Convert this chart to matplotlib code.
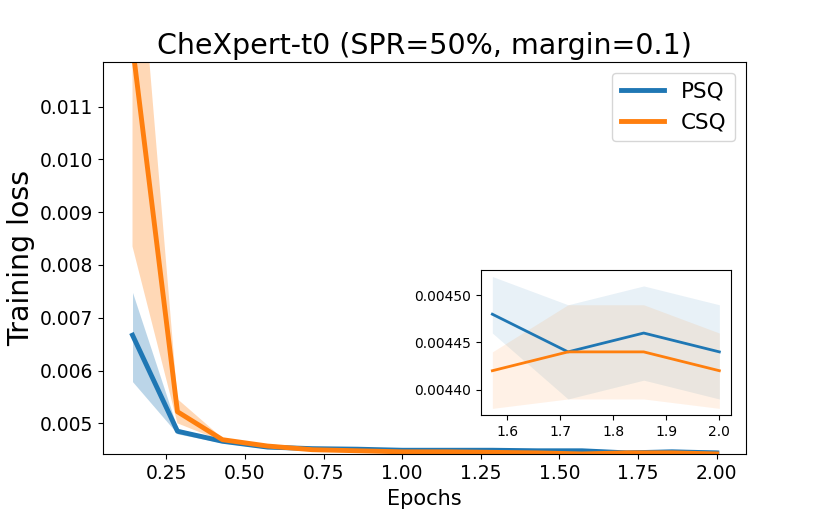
import numpy as np
import matplotlib
matplotlib.use("Agg")
import matplotlib.pyplot as plt

epochs = [1/7, 2/7, 3/7, 4/7, 5/7, 6/7, 1.0, 8/7, 9/7, 10/7, 11/7, 12/7, 13/7, 2.0]

psq_mean = [0.00667, 0.00485, 0.00466, 0.00455, 0.00452, 0.00451, 0.00449, 0.00449, 0.00449, 0.00448, 0.00448, 0.00444, 0.00446, 0.00444]
psq_low = [0.00579, 0.00480, 0.00463, 0.00452, 0.00450, 0.00449, 0.00447, 0.00447, 0.00446, 0.00446, 0.00446, 0.00439, 0.00441, 0.00439]
psq_high = [0.00748, 0.00490, 0.00468, 0.00457, 0.00454, 0.00453, 0.00452, 0.00451, 0.00451, 0.00450, 0.00452, 0.00449, 0.00451, 0.00449]

csq_mean = [0.01215, 0.00522, 0.00469, 0.00457, 0.00450, 0.00448, 0.00446, 0.00446, 0.00445, 0.00444, 0.00442, 0.00444, 0.00444, 0.00442]
csq_low = [0.00835, 0.00500, 0.00466, 0.00455, 0.00448, 0.00446, 0.00444, 0.00444, 0.00443, 0.00442, 0.00438, 0.00439, 0.00439, 0.00438]
csq_high = [0.01570, 0.00546, 0.00472, 0.00459, 0.00452, 0.00450, 0.00449, 0.00448, 0.00447, 0.00446, 0.00444, 0.00449, 0.00449, 0.00446]

title = "CheXpert-t0 (SPR=50%, margin=0.1)"
inset_start = 10

fig = plt.figure(figsize=(8.3, 5.19), dpi=100)
ax = fig.add_axes([103.3/830, 1-454.3/519, 642.7/830, 392/519])

c_psq, c_csq = "#1f77b4", "#ff7f0e"
ax.plot(epochs, psq_mean, color=c_psq, lw=3.5, label="PSQ")
ax.fill_between(epochs, psq_low, psq_high, color=c_psq, alpha=0.3, lw=0)
ax.plot(epochs, csq_mean, color=c_csq, lw=3.5, label="CSQ")
ax.fill_between(epochs, csq_low, csq_high, color=c_csq, alpha=0.3, lw=0)
ax.set_ylim(0.004413, 0.01184)
ax.tick_params(labelsize=13.5)
ax.set_xlabel("Epochs", fontsize=15)
ax.set_ylabel("Training loss", fontsize=20.5)
ax.set_title(title, fontsize=20.5)
ax.legend(loc="upper right", fontsize=15.5)

axin = ax.inset_axes([0.5877, 0.1003, 0.3885, 0.37])
xs = epochs[inset_start:]
axin.plot(xs, psq_mean[inset_start:], color=c_psq, lw=2)
axin.fill_between(xs, psq_low[inset_start:], psq_high[inset_start:], color=c_psq, alpha=0.1, lw=0)
axin.plot(xs, csq_mean[inset_start:], color=c_csq, lw=2)
axin.fill_between(xs, csq_low[inset_start:], csq_high[inset_start:], color=c_csq, alpha=0.1, lw=0)
axin.set_yticks([0.0044, 0.00445, 0.0045])
axin.set_yticklabels(["0.00440", "0.00445", "0.00450"])
axin.tick_params(labelsize=10)

fig.savefig("out.png", dpi=100)
